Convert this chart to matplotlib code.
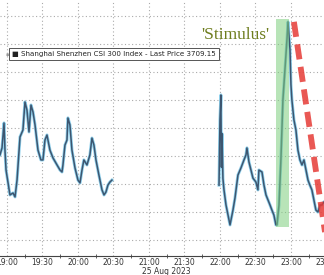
import matplotlib
matplotlib.use("Agg")
import matplotlib.pyplot as plt
from matplotlib.patches import Rectangle
from matplotlib.ticker import MultipleLocator, FuncFormatter

# minutes after 19:00 on 25 Aug 2023, and index level
t1 = [-5.9, -4.2, -2.5, -1.7, -0.8, 0.8, 2.5, 5.1, 6.8, 8.5, 11.0, 13.5, 15.2, 16.9,
      18.6, 20.3, 22.0, 23.7, 26.2, 28.7, 30.4, 32.1, 33.8, 36.3, 38.9, 42.3, 44.8,
      46.5, 47.3, 49.0, 50.7, 51.5, 53.2, 54.9, 57.5, 60.0, 61.7, 63.4, 65.0, 67.6,
      70.1, 71.8, 73.5, 75.2, 77.7, 80.3, 82.0, 83.6, 85.3, 87.0, 88.7]
p1 = [3720.4, 3722.9, 3731.8, 3722.1, 3715.0, 3710.7, 3706.1, 3706.8, 3705.4, 3711.4,
      3726.8, 3729.3, 3739.3, 3736.4, 3728.6, 3738.2, 3735.7, 3731.1, 3722.1, 3718.6,
      3718.6, 3725.7, 3727.5, 3722.1, 3719.3, 3716.8, 3715.0, 3714.3, 3716.8, 3723.9,
      3725.7, 3733.6, 3731.1, 3722.1, 3715.7, 3711.4, 3710.4, 3715.0, 3718.6, 3716.8,
      3720.4, 3726.4, 3723.9, 3718.6, 3713.2, 3707.9, 3706.1, 3707.1, 3709.6, 3710.7,
      3711.4]

t2 = [179.2, 180.0, 180.8, 181.2, 181.7, 182.5, 183.4, 185.1, 188.5, 191.0, 192.7,
      195.2, 197.7, 200.3, 202.0, 202.8, 204.5, 206.2, 207.9, 210.4, 212.1, 212.9,
      215.5, 217.2, 218.9, 220.6, 222.3, 223.9, 225.6, 227.3, 228.2, 229.9, 231.5,
      233.2, 234.9, 236.6, 237.5, 239.2, 240.0, 240.8, 242.5, 244.2, 245.9, 247.6,
      249.3, 251.0, 252.7, 254.4, 256.0, 257.7, 259.4, 261.1, 262.8, 264.5, 266.2,
      267.9, 269.5]
p2 = [3709.6, 3733.0, 3741.8, 3716.0, 3728.0, 3712.0, 3707.9, 3702.5, 3695.4, 3700.7,
      3705.0, 3713.2, 3715.7, 3718.6, 3720.4, 3722.9, 3717.9, 3715.0, 3712.1, 3710.7,
      3707.9, 3715.0, 3714.3, 3709.6, 3706.1, 3704.3, 3702.5, 3700.7, 3698.9, 3695.4,
      3695.4, 3702.5, 3718.6, 3740.0, 3750.7, 3761.4, 3767.9, 3757.9, 3745.4, 3740.0,
      3732.9, 3729.3, 3722.1, 3718.6, 3716.8, 3718.6, 3715.0, 3711.4, 3709.6, 3707.9,
      3704.3, 3700.7, 3700.0, 3702.5, 3702.5, 3703.6, 3704.0]

span_t = (227.3, 238.3)
span_p = (3694.6, 3768.9)
trend_t = [242.5, 270.4]
trend_p = [3767.9, 3688.2]

legend_txt = "Shanghai Shenzhen CSI 300 Index - Last Price 3709.15"


def fmt(x, pos):
    m = int(round(x)) + 19 * 60
    return f"{m // 60:02d}:{m % 60:02d}"


fig = plt.figure(figsize=(3.24, 2.75), dpi=100)
ax = fig.add_axes([0, 19 / 275, 330 / 324, 256 / 275])
ax.set_xlim(-5.9, 273.0)
ax.set_ylim(3684.3, 3775.7)

for t, p in [(t1, p1), (t2, p2)]:
    ax.plot(t, p, color="#8fd0ec", lw=2.2, zorder=2)
    ax.plot(t, p, color="#3d5670", lw=1.1, zorder=3)

ax.add_patch(Rectangle((span_t[0], span_p[0]), span_t[1] - span_t[0],
                       span_p[1] - span_p[0], facecolor="#7fcf7f", alpha=0.55,
                       edgecolor="none", zorder=4))
ax.plot(trend_t, trend_p, color="#e63b36", alpha=0.85, lw=4.2,
        dashes=(2.6, 1.3), zorder=5, solid_capstyle="butt")

ax.text(193.0, 3763.2, "'Stimulus'", color="#6e7d1e", fontsize=12.5,
        family="Liberation Serif", ha="center", va="center", zorder=6)

ax.text(0.017, 0.789, "\u25aa", transform=ax.transAxes, fontsize=3.5, color="#999999",
        va="center", ha="left", zorder=7)
ax.text(0.036, 0.789, "\u25a0 " + legend_txt, transform=ax.transAxes, fontsize=5.1,
        color="#222222", va="center", ha="left", zorder=7,
        bbox=dict(boxstyle="square,pad=0.45", facecolor="white",
                  edgecolor="#555555", lw=0.7))

ax.xaxis.set_major_locator(MultipleLocator(30))
ax.xaxis.set_minor_locator(MultipleLocator(15))
ax.xaxis.set_major_formatter(FuncFormatter(fmt))
ax.yaxis.set_major_locator(MultipleLocator(10))
ax.set_yticklabels([])
ax.tick_params(axis="y", length=0)
ax.tick_params(axis="x", which="major", length=0, labelsize=5.5, colors="#333333", pad=1.5)
ax.tick_params(axis="x", which="minor", length=2.5, direction="inout", color="#444444")
ax.grid(True, which="major", color="#aaaaaa", linestyle=(0, (1, 2.2)), lw=0.8)
for s in ["top", "left", "right"]:
    ax.spines[s].set_visible(False)
ax.spines["bottom"].set_color("#444444")
ax.spines["bottom"].set_linewidth(0.8)

fig.text(166 / 324, 4 / 275, "25 Aug 2023", fontsize=5.5, color="#333333",
         ha="center", va="center")

fig.savefig("out.png", dpi=100)
